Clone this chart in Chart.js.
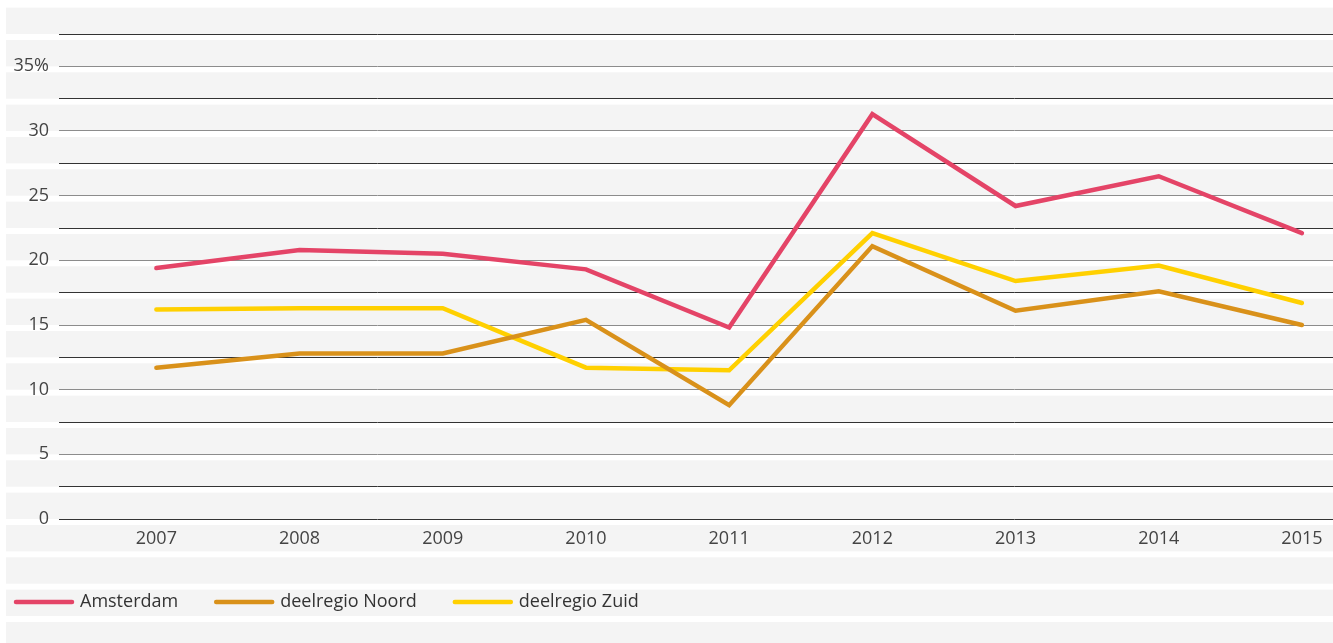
<!DOCTYPE html>
<html>
<head>
  <title>Aandeel per regio</title>
  <script src="https://cdn.jsdelivr.net/npm/chart.js@4"></script>
  <style>
    html, body { margin: 0; padding: 0; background: #fff; }
    #wrap { width: 1333px; height: 643px; }
  </style>
</head>
<body>
<div id="wrap">
  <canvas id="myChart"></canvas>
</div>

<script>
  const years = [2007, 2008, 2009, 2010, 2011, 2012, 2013, 2014, 2015];
  const amsterdam = [19.4, 20.8, 20.5, 19.3, 14.8, 31.3, 24.2, 26.5, 22.1];
  const noord = [11.7, 12.8, 12.8, 15.4, 8.8, 21.1, 16.1, 17.6, 15.0];
  const zuid = [16.2, 16.3, 16.3, 11.7, 11.5, 22.1, 18.4, 19.6, 16.7];
  const yTicks = [0, 5, 10, 15, 20, 25, 30, 35];

  const font = "'Open Sans', 'Noto Sans', sans-serif";
  const textColor = '#444';

  function series(label, values, color) {
    return {
      label: label,
      data: years.map((yr, i) => ({ x: yr, y: values[i] })),
      borderColor: color,
      backgroundColor: color,
      borderWidth: 4.5,
      borderCapStyle: 'round',
      borderJoinStyle: 'miter',
      pointRadius: 0,
      pointHoverRadius: 0,
      tension: 0
    };
  }

  // grey bands behind the chart, one per grid step, white gap under each line
  const stripes = {
    id: 'stripes',
    beforeDraw(chart) {
      const y = chart.scales.y;
      const ctx = chart.ctx;
      const base = y.getPixelForValue(0);
      const step = base - y.getPixelForValue(2.5);
      const gap = 6;
      ctx.save();
      ctx.fillStyle = '#f4f4f4';
      for (let k = -15; k <= 5; k++) {
        const line = base + k * step;
        ctx.fillRect(6, line - (step - gap), chart.width - 6, step - gap);
      }
      ctx.restore();
    }
  };

  // legend drawn on the canvas at the bottom left
  const bottomLegend = {
    id: 'bottomLegend',
    afterDraw(chart) {
      const ctx = chart.ctx;
      const yPos = 602;
      let x = 16;
      ctx.save();
      ctx.font = '18px ' + font;
      ctx.textBaseline = 'middle';
      chart.data.datasets.forEach(ds => {
        ctx.strokeStyle = ds.borderColor;
        ctx.lineWidth = 4.5;
        ctx.lineCap = 'round';
        ctx.beginPath();
        ctx.moveTo(x, yPos);
        ctx.lineTo(x + 56, yPos);
        ctx.stroke();
        ctx.fillStyle = '#333';
        ctx.fillText(ds.label, x + 64, yPos);
        x = x + 64 + ctx.measureText(ds.label).width + 38;
      });
      ctx.restore();
    }
  };

  new Chart(document.getElementById('myChart').getContext('2d'), {
    type: 'line',
    data: {
      datasets: [
        series('Amsterdam', amsterdam, '#e44467'),
        series('deelregio Noord', noord, '#d9911a'),
        series('deelregio Zuid', zuid, '#ffd000')
      ]
    },
    options: {
      responsive: true,
      maintainAspectRatio: false,
      animation: false,
      layout: { padding: { top: 34, left: 0, right: 0, bottom: 0 } },
      plugins: {
        legend: { display: false },
        tooltip: { enabled: false }
      },
      scales: {
        x: {
          type: 'linear',
          min: 2006.32,
          max: 2015.217,
          afterBuildTicks: scale => { scale.ticks = years.map(v => ({ value: v })); },
          afterFit: scale => { scale.height = 124; },
          grid: { display: false },
          border: { display: false },
          ticks: {
            padding: 1,
            color: textColor,
            font: { family: font, size: 18 },
            callback: v => String(v)
          }
        },
        y: {
          min: 0,
          max: 37.5,
          afterBuildTicks: scale => {
            const t = [];
            for (let v = 0; v <= 37.5; v += 2.5) t.push({ value: v });
            scale.ticks = t;
          },
          afterFit: scale => { scale.width = 59; },
          border: { display: false },
          grid: {
            drawTicks: false,
            lineWidth: 1,
            color: c => (c.tick.value % 5 === 0 && c.tick.value !== 0) ? '#8c8c8c' : '#333'
          },
          ticks: {
            padding: 10,
            color: textColor,
            font: { family: font, size: 18 },
            callback: v => yTicks.includes(v) ? (v === 35 ? '35%' : String(v)) : ''
          }
        }
      }
    },
    plugins: [stripes, bottomLegend]
  });
</script>
</body>
</html>
